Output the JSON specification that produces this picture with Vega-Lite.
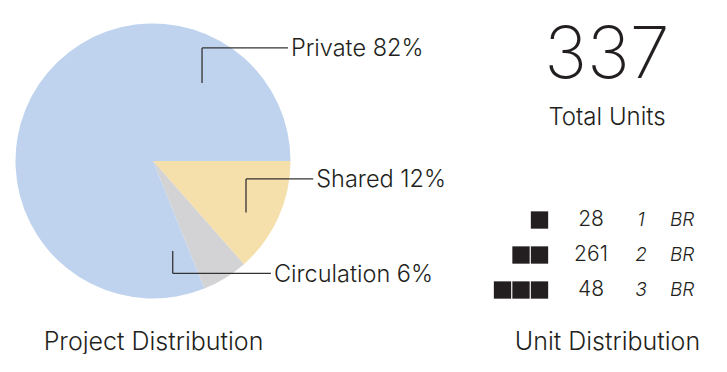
{
  "$schema": "https://vega.github.io/schema/vega-lite/v6.json",
  "background": "white",
  "padding": 0,
  "autosize": {"type": "pad"},
  "bounds": "flush",
  "spacing": 181,
  "config": {
    "view": {"stroke": null},
    "font": "Inter",
    "text": {"font": "Inter", "color": "#231F20", "fontWeight": 300},
    "axis": {
      "labels": false, "ticks": false, "domain": false, "grid": false,
      "titleFont": "Inter", "titleFontSize": 25, "titleFontWeight": 300,
      "titleColor": "#231F20", "titlePadding": 7
    }
  },
  "datasets": {
    "segments": [
      {"segment": "Shared", "share": 13.5},
      {"segment": "Circulation", "share": 5.4},
      {"segment": "Private", "share": 81.1}
    ],
    "callouts": [
      {"segment": "Private", "label": "Private 82%", "ax": 0.358, "ay": 0.569, "ey": 0.825, "ex": 0.985},
      {"segment": "Shared", "label": "Shared 12%", "ax": 0.679, "ay": -0.375, "ey": -0.131, "ex": 1.170},
      {"segment": "Circulation", "label": "Circulation 6%", "ax": 0.144, "ay": -0.657, "ey": -0.820, "ex": 0.861}
    ],
    "units": [
      {"br": 1, "units": 28},
      {"br": 2, "units": 261},
      {"br": 3, "units": 48}
    ],
    "icons": [
      {"br": 1, "k": 1},
      {"br": 2, "k": 1},
      {"br": 2, "k": 2},
      {"br": 3, "k": 1},
      {"br": 3, "k": 2},
      {"br": 3, "k": 3}
    ]
  },
  "hconcat": [
    {
      "width": 306,
      "height": 322,
      "layer": [
        {
          "data": {"name": "segments"},
          "transform": [{"window": [{"op": "row_number", "as": "idx"}]}],
          "mark": {"type": "arc", "radius": 137.5},
          "encoding": {
            "theta": {"field": "share", "type": "quantitative", "stack": true, "scale": {"range": [1.5708, 7.854]}},
            "color": {"field": "segment", "type": "nominal", "legend": null,
              "scale": {"domain": ["Private", "Shared", "Circulation"], "range": ["#BFD3EE", "#F5DFAA", "#D3D3D5"]}},
            "order": {"field": "idx", "type": "quantitative"}
          }
        },
        {
          "data": {"name": "callouts"},
          "mark": {"type": "rule", "color": "#333333", "strokeWidth": 1.3},
          "encoding": {
            "x": {"field": "ax", "type": "quantitative", "title": "Project Distribution",
              "scale": {"domain": [-1.117, 1.117], "nice": false, "zero": false}},
            "y": {"field": "ay", "type": "quantitative", "axis": null,
              "scale": {"domain": [-1.175, 1.175], "nice": false, "zero": false}},
            "y2": {"field": "ey"}
          }
        },
        {
          "data": {"name": "callouts"},
          "mark": {"type": "rule", "color": "#333333", "strokeWidth": 1.3},
          "encoding": {
            "x": {"field": "ax", "type": "quantitative", "title": "Project Distribution"},
            "x2": {"field": "ex"},
            "y": {"field": "ey", "type": "quantitative", "axis": null}
          }
        },
        {
          "data": {"name": "callouts"},
          "mark": {"type": "text", "align": "left", "baseline": "middle", "dx": 3, "dy": 1.5, "fontSize": 23.5},
          "encoding": {
            "x": {"field": "ex", "type": "quantitative", "title": "Project Distribution"},
            "y": {"field": "ey", "type": "quantitative", "axis": null},
            "text": {"field": "label"}
          }
        }
      ]
    },
    {
      "width": 240,
      "height": 322,
      "layer": [
        {
          "data": {"name": "icons"},
          "mark": {"type": "square", "size": 300, "filled": true, "opacity": 1, "color": "#231F20"},
          "encoding": {
            "x": {"field": "k", "type": "quantitative", "title": "Unit Distribution",
              "scale": {"domain": [-9.135, 3.838], "reverse": true, "nice": false, "zero": false}},
            "y": {"field": "br", "type": "quantitative", "axis": null,
              "scale": {"domain": [-5.286, 3.914], "reverse": true, "nice": false, "zero": false}}
          }
        },
        {
          "data": {"name": "units"},
          "mark": {"type": "text", "align": "center", "baseline": "middle", "fontSize": 21},
          "encoding": {
            "x": {"datum": -1.784},
            "y": {"field": "br", "type": "quantitative", "axis": null},
            "text": {"field": "units"}
          }
        },
        {
          "data": {"name": "units"},
          "mark": {"type": "text", "align": "center", "baseline": "middle", "fontSize": 19, "fontStyle": "italic"},
          "encoding": {
            "x": {"datum": -4.486},
            "y": {"field": "br", "type": "quantitative", "axis": null},
            "text": {"field": "br"}
          }
        },
        {
          "data": {"name": "units"},
          "mark": {"type": "text", "align": "left", "baseline": "middle", "fontSize": 19, "fontStyle": "italic"},
          "encoding": {
            "x": {"datum": -6.054},
            "y": {"field": "br", "type": "quantitative", "axis": null},
            "text": {"value": "BR"}
          }
        },
        {
          "data": {"name": "units"},
          "transform": [{"aggregate": [{"op": "sum", "field": "units", "as": "total"}]}],
          "mark": {"type": "text", "align": "center", "baseline": "middle", "fontSize": 72, "fontWeight": 200},
          "encoding": {
            "x": {"datum": -2.649},
            "y": {"datum": -3.68},
            "text": {"field": "total"}
          }
        },
        {
          "data": {"name": "units"},
          "transform": [{"aggregate": [{"op": "sum", "field": "units", "as": "total"}]}],
          "mark": {"type": "text", "align": "center", "baseline": "middle", "fontSize": 24, "text": "Total Units"},
          "encoding": {
            "x": {"datum": -2.649},
            "y": {"datum": -1.914}
          }
        }
      ]
    }
  ]
}
